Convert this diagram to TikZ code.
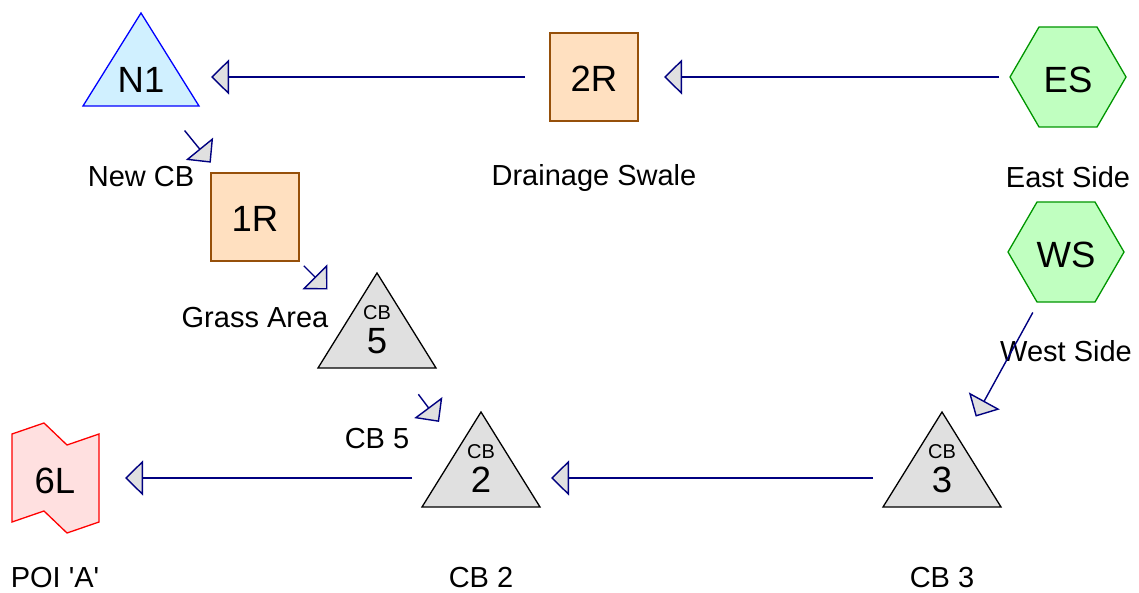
\documentclass[tikz,border=0pt]{standalone}
\usepackage{fontspec}
\setmainfont{Liberation Sans}
\usetikzlibrary{arrows.meta}
\definecolor{navyline}{RGB}{0,0,128}
\definecolor{arrowfill}{RGB}{224,224,224}
\definecolor{blueedge}{RGB}{0,0,255}
\definecolor{bluefill}{RGB}{208,240,255}
\definecolor{brownedge}{RGB}{150,80,10}
\definecolor{peachfill}{RGB}{255,224,192}
\definecolor{greenedge}{RGB}{0,150,0}
\definecolor{greenfill}{RGB}{192,255,192}
\definecolor{grayfill}{RGB}{224,224,224}
\definecolor{pinkfill}{RGB}{255,224,224}
\begin{document}
\begin{tikzpicture}[x=1pt,y=-1pt,
  shp/.style={line width=1.3pt, line join=miter},
  big/.style={inner sep=0pt, anchor=base, font=\fontsize{36.5}{40}\selectfont},
  small/.style={inner sep=0pt, anchor=base, font=\fontsize{20}{22}\selectfont},
  lbl/.style={inner sep=0pt, anchor=base, font=\fontsize{29}{31}\selectfont},
  flow/.style={draw=navyline, line width=1.4pt, shorten <=69pt, shorten >=70pt,
    -{Triangle[length=18pt,width=35pt,fill=arrowfill]}}]
\useasboundingbox (0,0) rectangle (1139,593);
\coordinate (N1) at (141,77);
\coordinate (R2) at (594,77);
\coordinate (ES) at (1068,77);
\coordinate (R1) at (255,217);
\coordinate (CB5) at (377,339);
\coordinate (WS) at (1066,252);
\coordinate (CB2) at (481,478);
\coordinate (CB3) at (942,478);
\coordinate (L6) at (55,478);
% N1
\begin{scope}[shift={(N1)}]
  \draw[shp, draw=blueedge, fill=bluefill] (0,-64) -- (-58,29) -- (58,29) -- cycle;
  \node[big] (N1t) at (0,16) {N1};
  \node[lbl] (N1l) at (0,110) {New CB};
\end{scope}
% 2R
\begin{scope}[shift={(R2)}]
  \draw[shp, draw=brownedge, fill=peachfill] (-44,-44) rectangle (44,44);
  \node[big] (R2t) at (0,15) {2R};
  \node[lbl] (R2l) at (0,109) {Drainage Swale};
\end{scope}
% ES
\begin{scope}[shift={(ES)}]
  \draw[shp, draw=greenedge, fill=greenfill] (-58,0) -- (-29,-50) -- (29,-50) -- (58,0) -- (29,50) -- (-29,50) -- cycle;
  \node[big] (ESt) at (0,16) {ES};
  \node[lbl] (ESl) at (0,111) {East Side};
\end{scope}
% 1R
\begin{scope}[shift={(R1)}]
  \draw[shp, draw=brownedge, fill=peachfill] (-44,-44) rectangle (44,44);
  \node[big] (R1t) at (0,15) {1R};
  \node[lbl] (R1l) at (0,110) {Grass Area};
\end{scope}
% WS
\begin{scope}[shift={(WS)}]
  \draw[shp, draw=greenedge, fill=greenfill] (-58,0) -- (-29,-50) -- (29,-50) -- (58,0) -- (29,50) -- (-29,50) -- cycle;
  \node[big] (WSt) at (0,16) {WS};
  \node[lbl] (WSl) at (0,109) {West Side};
\end{scope}
% CB5
\begin{scope}[shift={(CB5)}]
  \draw[shp, draw=black, fill=grayfill] (0,-66) -- (-59,29) -- (59,29) -- cycle;
  \node[small] (CB5a) at (0,-20) {CB};
  \node[big] (CB5t) at (0,14) {5};
  \node[lbl] (CB5l) at (0,109) {CB 5};
\end{scope}
% CB2
\begin{scope}[shift={(CB2)}]
  \draw[shp, draw=black, fill=grayfill] (0,-66) -- (-59,29) -- (59,29) -- cycle;
  \node[small] (CB2a) at (0,-20) {CB};
  \node[big] (CB2t) at (0,14) {2};
  \node[lbl] (CB2l) at (0,109) {CB 2};
\end{scope}
% CB3
\begin{scope}[shift={(CB3)}]
  \draw[shp, draw=black, fill=grayfill] (0,-66) -- (-59,29) -- (59,29) -- cycle;
  \node[small] (CB3a) at (0,-20) {CB};
  \node[big] (CB3t) at (0,14) {3};
  \node[lbl] (CB3l) at (0,109) {CB 3};
\end{scope}
% 6L
\begin{scope}[shift={(L6)}]
  \draw[shp, draw=red, fill=pinkfill] (-43,-44) -- (-11,-55) -- (12,-33) -- (44,-44) -- (44,44) -- (12,55) -- (-11,33) -- (-43,44) -- cycle;
  \node[big] (L6t) at (0,15) {6L};
  \node[lbl] (L6l) at (0,109) {POI \textquotesingle A\textquotesingle};
\end{scope}
% connectors
\draw[flow] (ES) -- (R2);
\draw[flow] (R2) -- (N1);
\draw[flow] (N1) -- (R1);
\draw[flow] (R1) -- (CB5);
\draw[flow] (CB5) -- (CB2);
\draw[flow] (WS) -- (CB3);
\draw[flow] (CB3) -- (CB2);
\draw[flow] (CB2) -- (L6);
\end{tikzpicture}
\end{document}
